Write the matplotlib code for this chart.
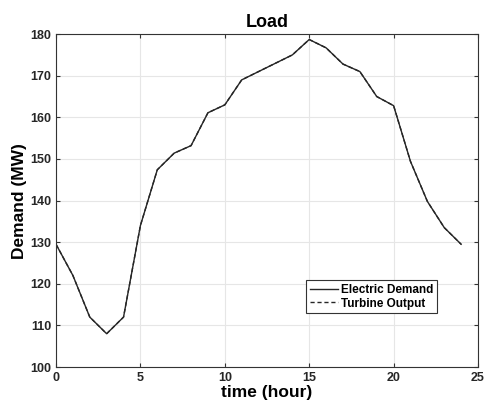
import matplotlib
matplotlib.use('Agg')
import matplotlib.pyplot as plt

plt.rcParams['font.family'] = ['Liberation Sans', 'DejaVu Sans']
plt.rcParams['font.weight'] = 'bold'

hours = list(range(25))
electricDemand = [129.5, 122, 112, 108, 112, 134, 147.4, 151.4, 153.2, 161.1, 163,
                  169, 171, 173, 175, 178.7, 176.7, 172.8, 171, 165, 162.8,
                  149.4, 139.8, 133.5, 129.5]
turbineOutput = list(electricDemand)  # overlaps the demand curve

fig = plt.figure(figsize=(4.85, 4.11), dpi=100)
ax = fig.add_axes([0.1155, 0.107, 0.8701, 0.81])

ax.plot(hours, electricDemand, color='#262626', lw=1.0, label='Electric Demand')
ax.plot(hours, turbineOutput, color='#262626', lw=1.0, ls=(0, (3, 2)), label='Turbine Output')

ax.set_xlim(0, 25)
ax.set_ylim(100, 180)
ax.set_xticks(range(0, 26, 5))
ax.set_yticks(range(100, 181, 10))
ax.grid(True, color='#e6e6e6', lw=0.8)
ax.tick_params(direction='in', top=True, right=True, labelsize=9, length=3,
               color='#333333', labelcolor='#262626')
for sp in ax.spines.values():
    sp.set_color('#333333')
    sp.set_linewidth(0.8)

ax.set_title('Load', fontsize=13, fontweight='bold', pad=5)
ax.set_xlabel('time (hour)', fontsize=12.5, fontweight='bold', labelpad=1)
ax.set_ylabel('Demand (MW)', fontsize=12.5, fontweight='bold', labelpad=2)

leg = ax.legend(loc='lower right', bbox_to_anchor=(0.903, 0.162), borderaxespad=0,
                fontsize=8.5, fancybox=False, framealpha=1, edgecolor='#333333',
                handlelength=2.4, handletextpad=0.25, borderpad=0.3, labelspacing=0.15)
leg.get_frame().set_linewidth(0.8)

fig.savefig('out.png', dpi=100)
